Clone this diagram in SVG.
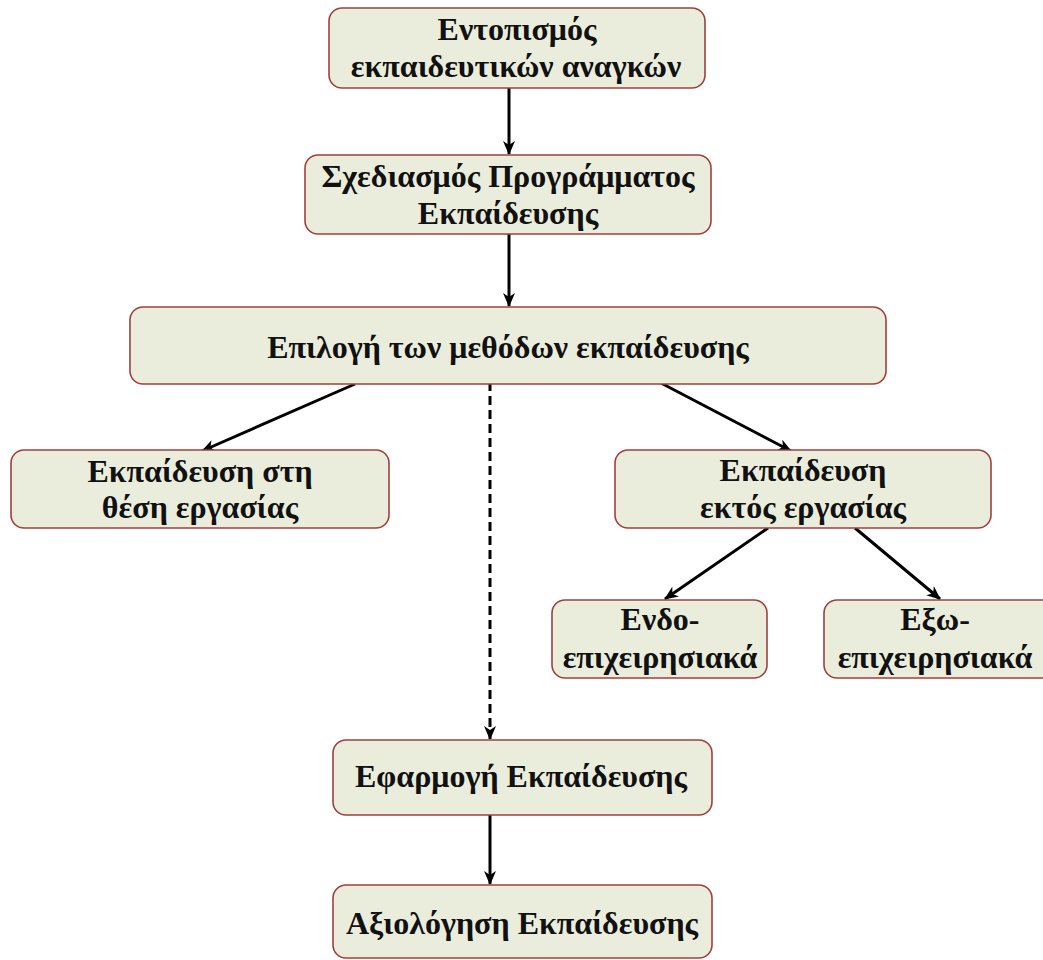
<svg xmlns="http://www.w3.org/2000/svg" width="1043" height="960" viewBox="0 0 1043 960">
  <defs>
    <style>
      .box { fill: #ebeddc; stroke: #a0403c; stroke-width: 1.6; }
      .lbl { font-family: "Liberation Serif", "Times New Roman", serif; font-weight: bold; font-size: 32px; fill: #111; text-anchor: middle; }
      .link { stroke: #000; stroke-width: 3; fill: none; marker-end: url(#head); }
      .dash { stroke-dasharray: 9 5; }
    </style>
    <marker id="head" viewBox="0 0 14 12" refX="13" refY="6" markerWidth="14" markerHeight="12" markerUnits="userSpaceOnUse" orient="auto">
      <path d="M0,0 L14,6 L0,12 L4,6 Z" fill="#000"/>
    </marker>
  </defs>
  <rect width="1043" height="960" fill="#fff"/>

  <g id="connectors">
    <line class="link" x1="509" y1="88" x2="509" y2="154"/>
    <line class="link" x1="509" y1="234" x2="509" y2="306"/>
    <line class="link" x1="355" y1="384" x2="202" y2="451"/>
    <line class="link dash" x1="490" y1="382" x2="490" y2="739"/>
    <line class="link" x1="659" y1="382" x2="791" y2="451"/>
    <line class="link" x1="768" y1="528" x2="665" y2="599"/>
    <line class="link" x1="855" y1="528" x2="940" y2="599"/>
    <line class="link" x1="490" y1="815" x2="490" y2="884"/>
  </g>

  <g id="needs">
    <rect class="box" x="329" y="8" width="376" height="80" rx="13"/>
    <text class="lbl" x="517" y="40">Εντοπισμός</text>
    <text class="lbl" x="516" y="77">εκπαιδευτικών αναγκών</text>
  </g>

  <g id="design">
    <rect class="box" x="305" y="155" width="406" height="79" rx="13"/>
    <text class="lbl" x="508" y="187">Σχεδιασμός Προγράμματος</text>
    <text class="lbl" x="508" y="224">Εκπαίδευσης</text>
  </g>

  <g id="methods">
    <rect class="box" x="130" y="307" width="756" height="77" rx="13"/>
    <text class="lbl" x="508" y="358">Επιλογή των μεθόδων εκπαίδευσης</text>
  </g>

  <g id="on-the-job">
    <rect class="box" x="11" y="450" width="378" height="78" rx="13"/>
    <text class="lbl" x="200" y="482">Εκπαίδευση στη</text>
    <text class="lbl" x="200" y="518">θέση εργασίας</text>
  </g>

  <g id="off-the-job">
    <rect class="box" x="615" y="450" width="376" height="78" rx="13"/>
    <text class="lbl" x="803" y="481">Εκπαίδευση</text>
    <text class="lbl" x="803" y="518">εκτός εργασίας</text>
  </g>

  <g id="internal">
    <rect class="box" x="552" y="600" width="215" height="78" rx="13"/>
    <text class="lbl" x="660" y="630">Ενδο-</text>
    <text class="lbl" x="660" y="668">επιχειρησιακά</text>
  </g>

  <g id="external">
    <rect class="box" x="824" y="600" width="240" height="78" rx="13"/>
    <text class="lbl" x="935" y="630">Εξω-</text>
    <text class="lbl" x="935" y="668">επιχειρησιακά</text>
  </g>

  <g id="delivery">
    <rect class="box" x="333" y="740" width="379" height="75" rx="13"/>
    <text class="lbl" x="521" y="787">Εφαρμογή Εκπαίδευσης</text>
  </g>

  <g id="evaluation">
    <rect class="box" x="333" y="885" width="379" height="73" rx="13"/>
    <text class="lbl" x="522" y="934">Αξιολόγηση Εκπαίδευσης</text>
  </g>
</svg>
